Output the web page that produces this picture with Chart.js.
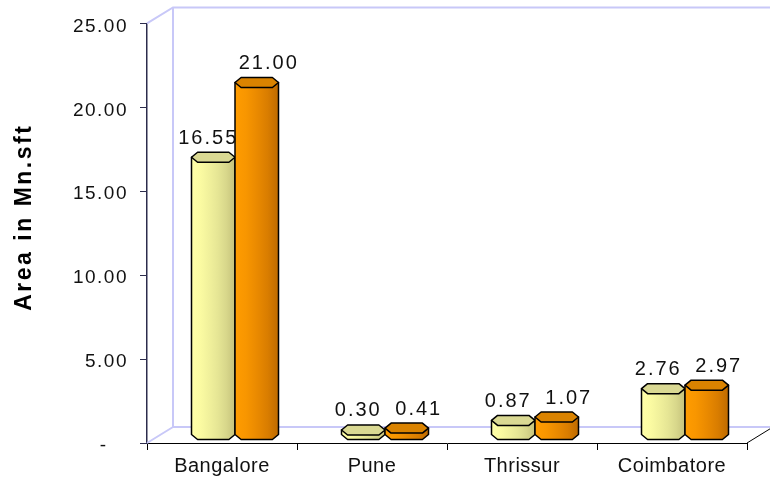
<!DOCTYPE html>
<html>
<head>
<meta charset="utf-8">
<script src="https://cdn.jsdelivr.net/npm/chart.js@4/dist/chart.umd.min.js"></script>
<style>
  html, body { margin: 0; padding: 0; background: #ffffff; }
  #wrap { width: 770px; height: 482px; }
</style>
</head>
<body>
<div id="wrap"><canvas id="chart" width="770" height="482"></canvas></div>
<script>
// ---- data ----
const cities = ['Bangalore', 'Pune', 'Thrissur', 'Coimbatore'];
const seriesA = [16.55, 0.30, 0.87, 2.76];
const seriesB = [21.00, 0.41, 1.07, 2.97];
const yTickValues = [0, 5, 10, 15, 20, 25];
const yTitle = 'Area in Mn.sft';

// ---- look ----
const FONT = '"Liberation Sans", Arial, Helvetica, sans-serif';
const DEPTH_X = 26, DEPTH_Y = 16;      // depth of the 3-D floor/back wall
const SHIFT_X = 13, SHIFT_Y = 8;       // bars stand half way into the depth
const CAP = 10;                         // height of the prism's top face
const palettes = [
  {
    body: [[0, '#ffffa8'], [0.2, '#fbfba2'], [0.4, '#f1f19c'], [0.6, '#e6e695'], [0.8, '#d8d78b'], [1, '#c5c27b']],
    cap: '#dad993',
    labelDx: -5
  },
  {
    body: [[0, '#ff9c00'], [0.25, '#f89600'], [0.5, '#ea8a00'], [0.75, '#d97d00'], [1, '#be6a00']],
    cap: '#da8300',
    labelDx: 12
  }
];
const tickSpacing = { x: '0.5px', y: '1.5px' };

// Letter spacing for the axis tick labels
const spacedLabels = {
  id: 'spacedLabels',
  afterLayout(chart) {
    Object.values(chart.scales).forEach(s => {
      if (s.__spaced) return;
      const draw = s.drawLabels.bind(s);
      s.drawLabels = (area) => {
        const c = chart.ctx;
        c.save();
        c.letterSpacing = tickSpacing[s.axis] || '0px';
        draw(area);
        c.restore();
      };
      s.__spaced = true;
    });
  }
};

// Back wall and floor outline of the 3-D plot box
const wall = {
  id: 'wall',
  beforeDatasetsDraw(chart) {
    const { ctx, chartArea: a, width } = chart;
    ctx.save();
    ctx.strokeStyle = '#c8c8f8';
    ctx.lineWidth = 2;
    ctx.beginPath();
    ctx.moveTo(a.left, a.top);
    ctx.lineTo(a.left + DEPTH_X, a.top - DEPTH_Y);
    ctx.lineTo(width, a.top - DEPTH_Y);
    ctx.moveTo(a.left + DEPTH_X, a.top - DEPTH_Y);
    ctx.lineTo(a.left + DEPTH_X, a.bottom - DEPTH_Y);
    ctx.lineTo(width, a.bottom - DEPTH_Y);
    ctx.moveTo(a.left, a.bottom);
    ctx.lineTo(a.left + DEPTH_X, a.bottom - DEPTH_Y);
    ctx.stroke();
    ctx.strokeStyle = '#000000';
    ctx.lineWidth = 1;
    ctx.beginPath();
    ctx.moveTo(a.right, a.bottom);
    ctx.lineTo(a.right + DEPTH_X, a.bottom - DEPTH_Y);
    ctx.stroke();
    ctx.restore();
  }
};

function drawPrism(ctx, x, top, base, w, pal) {
  const x0 = x - w / 2, x1 = x + w / 2, r = CAP / 2, k = w * 0.14;
  const g = ctx.createLinearGradient(x0, 0, x1, 0);
  pal.body.forEach(([o, c]) => g.addColorStop(o, c));
  ctx.lineWidth = 1.5;
  ctx.strokeStyle = '#000000';
  ctx.lineJoin = 'round';
  ctx.beginPath();
  ctx.moveTo(x0, top);
  ctx.lineTo(x0, base);
  ctx.lineTo(x0 + k, base + r);
  ctx.lineTo(x1 - k, base + r);
  ctx.lineTo(x1, base);
  ctx.lineTo(x1, top);
  ctx.closePath();
  ctx.fillStyle = g;
  ctx.fill();
  ctx.stroke();
  ctx.beginPath();
  ctx.moveTo(x0, top);
  ctx.lineTo(x0 + k, top - r);
  ctx.lineTo(x1 - k, top - r);
  ctx.lineTo(x1, top);
  ctx.lineTo(x1 - k, top + r);
  ctx.lineTo(x0 + k, top + r);
  ctx.closePath();
  ctx.fillStyle = pal.cap;
  ctx.fill();
  ctx.stroke();
}

// Bars as shaded prisms, plus value labels and the value-axis title
const prisms = {
  id: 'prisms',
  beforeDatasetDraw() { return false; },
  afterDatasetsDraw(chart) {
    const ctx = chart.ctx;
    ctx.save();
    ctx.translate(SHIFT_X, -SHIFT_Y);
    chart.data.datasets.forEach((ds, i) => {
      chart.getDatasetMeta(i).data.forEach(el => {
        const p = el.getProps(['x', 'y', 'base', 'width'], true);
        drawPrism(ctx, p.x, p.y, p.base, p.width, palettes[i]);
      });
    });
    ctx.restore();

    ctx.save();
    ctx.font = '20px ' + FONT;
    ctx.letterSpacing = '2px';
    ctx.fillStyle = '#111111';
    ctx.textAlign = 'center';
    ctx.textBaseline = 'middle';
    chart.data.datasets.forEach((ds, i) => {
      chart.getDatasetMeta(i).data.forEach((el, j) => {
        const p = el.getProps(['x', 'y'], true);
        ctx.fillText(ds.data[j].toFixed(2), p.x + SHIFT_X + palettes[i].labelDx, p.y - 27);
      });
    });
    ctx.restore();
  },
  afterDraw(chart) {
    const { ctx, chartArea: a } = chart;
    ctx.save();
    ctx.translate(25, (a.top + a.bottom) / 2 - 16);
    ctx.rotate(-Math.PI / 2);
    ctx.font = 'bold 23px ' + FONT;
    ctx.letterSpacing = '2.5px';
    ctx.fillStyle = '#000000';
    ctx.textAlign = 'center';
    ctx.textBaseline = 'middle';
    ctx.fillText(yTitle, 0, 0);
    ctx.restore();
  }
};

Chart.defaults.font.family = FONT;

new Chart(document.getElementById('chart'), {
  type: 'bar',
  data: {
    labels: cities,
    datasets: [
      { label: 'Series 1', data: seriesA, backgroundColor: '#ffff99' },
      { label: 'Series 2', data: seriesB, backgroundColor: '#ff9900' }
    ]
  },
  options: {
    responsive: false,
    animation: false,
    devicePixelRatio: 1,
    layout: { padding: { top: 23, right: 23, left: 0, bottom: 0 } },
    plugins: { legend: { display: false }, tooltip: { enabled: false } },
    datasets: { bar: { barPercentage: 1, categoryPercentage: 0.58 } },
    scales: {
      x: {
        grid: { display: true, drawOnChartArea: false, drawTicks: true, tickLength: 7, color: '#000000', offset: true },
        border: { display: true, color: '#000000', width: 1 },
        ticks: { color: '#111111', font: { size: 20 }, padding: 4, maxRotation: 0 },
        afterFit(scale) { scale.height = 39; }
      },
      y: {
        min: 0,
        max: 25,
        grid: { display: true, drawOnChartArea: false, drawTicks: true, tickLength: 7, color: '#2c2c4c' },
        border: { display: true, color: '#2c2c4c', width: 1.5 },
        afterBuildTicks(scale) { scale.ticks = yTickValues.map(v => ({ value: v })); },
        ticks: {
          color: '#111111',
          font: { size: 19 },
          padding: 12,
          labelOffset: 3,
          callback: v => (v === 0 ? '-   ' : Number(v).toFixed(2))
        },
        afterFit(scale) { scale.width = 147; }
      }
    }
  },
  plugins: [spacedLabels, wall, prisms]
});
</script>
</body>
</html>
